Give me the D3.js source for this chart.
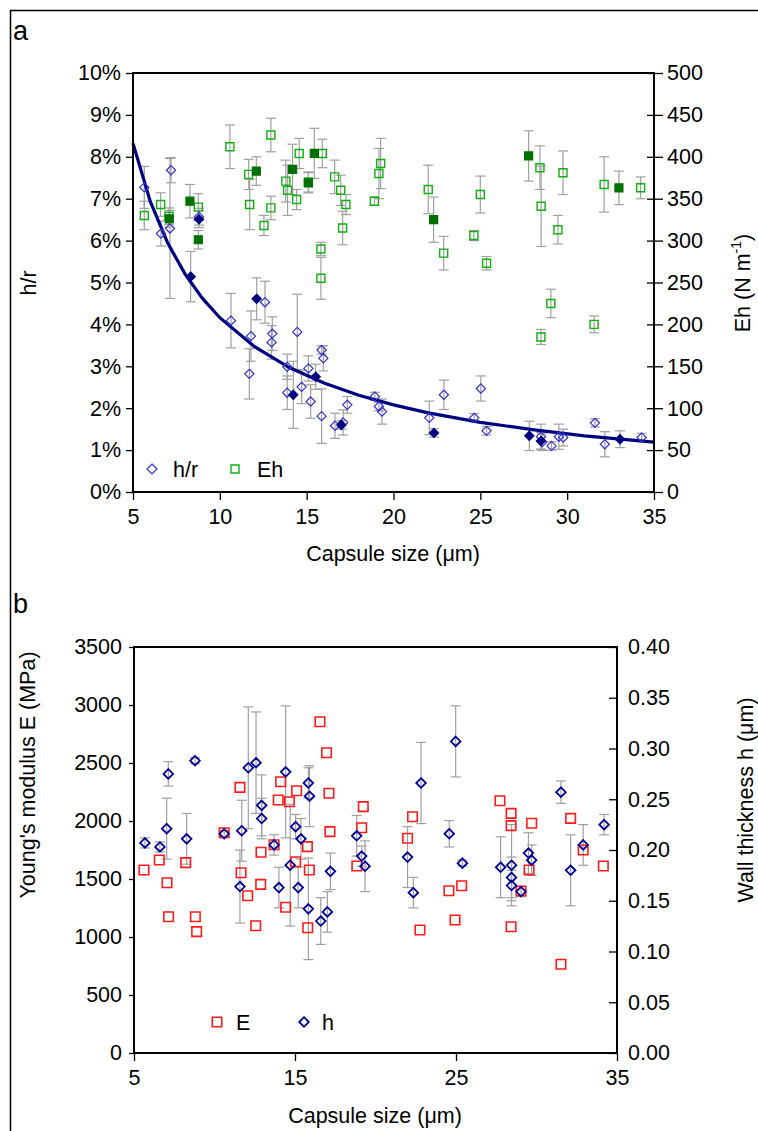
<!DOCTYPE html>
<html><head><meta charset="utf-8">
<script src="https://cdn.jsdelivr.net/npm/d3@7"></script>
<style>
body{margin:0;background:#fff;}
svg{display:block;font-family:"Liberation Sans",Arial,sans-serif;}
</style></head>
<body>
<script>
// ---------- Panel a data ----------
// Eh open squares: capsule size, Eh (N/m), error (+/-)
const ehOpenX   = [5.65,6.59,7.07,8.76,10.58,11.66,11.72,12.54,12.94,12.94,13.8,13.9,14.57,14.42,15.9,15.1,16.61,16.96,17.26,17.07,15.82,15.82,19.26,19.16,18.9,22.0,22.89,24.63,25.0,25.36,28.43,28.5,29.76,29.47,32.13,34.23,29.06,28.49,31.55];
const ehOpenY   = [330,343,329,340,412,379,343,318,426,339,371,360,404,349,404,370,376,360,343,315,290,255,392,380,347,361,285,306,355,273,387,341,381,313,367,363,225,185,200];
const ehOpenErr = [17,14,10,16,26,18,30,12,20,14,25,30,18,12,17,12,20,18,12,20,8,25,30,30,5,29,20,6,22,8,26,48,26,17,33,13,17,9,10];
// Eh filled squares
const ehFillX   = [7.09,8.28,8.76,12.1,14.19,15.44,15.1,22.31,27.78,32.98];
const ehFillY   = [326,347,301,383,385,404,369,325,401,363];
const ehFillErr = [10,20,11,17,30,30,12,27,30,20];
// h/r open diamonds (%)
const hrOpenX   = [5.65,7.19,6.61,7.13,8.8,10.64,12.6,11.79,11.7,13.02,12.98,13.88,13.88,14.46,15.1,14.71,15.23,15.86,15.96,15.86,16.63,17.1,17.34,18.93,19.16,19.34,22.06,22.9,24.65,25.03,25.36,28.49,28.56,29.1,29.52,29.77,31.6,32.17,34.29];
const hrOpenY   = [7.27,7.68,6.17,6.29,6.57,4.09,4.53,3.72,2.82,3.78,3.57,2.99,2.37,3.82,2.95,2.51,2.16,3.39,3.19,1.81,1.58,1.66,2.08,2.28,2.04,1.92,1.77,2.32,1.77,2.47,1.46,1.32,1.19,1.10,1.32,1.30,1.65,1.14,1.30];
const hrOpenErr = [0.5,0.3,0.3,1.67,0.2,0.65,0.5,0.6,0.6,0.4,0.4,0.3,0.4,0.9,0.3,0.4,0.4,0.1,0.3,0.65,0.3,0.3,0.2,0.1,0.1,0.3,0.4,0.35,0.1,0.3,0.1,0.3,0.2,0.1,0.3,0.2,0.1,0.3,0.1];
// h/r filled diamonds (%)
const hrFillX   = [8.8,8.32,12.12,14.23,15.52,17.0,22.33,27.82,28.49,33.04];
const hrFillY   = [6.51,5.14,4.61,2.32,2.75,1.6,1.41,1.34,1.22,1.26];
const hrFillErr = [0.2,0.6,0.5,0.8,0.3,0.1,0.1,0.35,0.2,0.2];
// fitted h/r curve (%)
const fitX = [5,6,7,8,9,10,12,14,16,18,20,22,25,28,31,35];
const fitY = [8.32,6.93,5.94,5.2,4.62,4.16,3.47,2.97,2.6,2.31,2.08,1.89,1.66,1.49,1.34,1.19];
const aXTicks = [5,10,15,20,25,30,35];
const aYTicks = [0,1,2,3,4,5,6,7,8,9,10];
const aY2Ticks = [0,50,100,150,200,250,300,350,400,450,500];

// ---------- Panel b data ----------
const eX = [5.62,6.57,7.05,8.21,7.15,8.81,8.89,10.6,11.58,11.65,12.06,12.87,12.56,12.89,13.7,13.96,14.11,14.42,14.65,15.04,15.1,15.77,15.89,15.79,16.55,16.96,17.11,17.17,18.84,19.14,19.24,21.99,22.3,22.76,24.56,24.94,25.35,27.73,28.42,28.42,28.42,29.04,29.54,29.7,31.52,32.12,32.9,34.15];
const eY = [1578,1664,1468,1641,1175,1175,1046,1899,2290,1554,1356,1454,1097,1730,1795,2181,2339,1256,2166,1649,2261,1779,1578,1080,2856,2589,2239,1908,1612,1942,2124,1851,2037,1060,1399,1147,1442,2175,2066,1960,1089,1397,1578,1980,765,2023,1750,1612];
const hX = [5.68,6.61,7.13,7.03,8.79,8.27,10.6,11.69,11.58,12.1,12.58,12.93,12.93,13.7,14.0,14.42,14.7,15.04,15.2,15.37,15.83,15.9,15.83,16.6,17.01,17.2,18.83,19.14,19.35,21.99,22.35,22.83,24.58,24.98,25.4,27.77,28.45,28.45,28.45,29.04,29.5,29.7,31.52,32.12,32.9,34.2];
const hY = [0.207,0.203,0.275,0.221,0.288,0.211,0.216,0.219,0.164,0.281,0.286,0.244,0.231,0.205,0.163,0.277,0.185,0.223,0.163,0.211,0.266,0.253,0.142,0.130,0.139,0.179,0.214,0.194,0.184,0.193,0.158,0.266,0.216,0.307,0.187,0.183,0.185,0.173,0.165,0.159,0.197,0.190,0.257,0.180,0.205,0.225];
const hErr = [0.005,0.005,0.012,0.03,0.003,0.025,0.003,0.03,0.036,0.06,0.05,0.03,0.02,0.01,0.02,0.065,0.06,0.012,0.02,0.02,0.015,0.03,0.05,0.023,0.02,0.018,0.02,0.01,0.025,0.03,0.015,0.04,0.013,0.035,0.003,0.03,0.04,0.02,0.015,0.005,0.02,0.015,0.011,0.035,0.02,0.01];
const bXTicks = [5,15,25,35];
const bYTicks = [0,500,1000,1500,2000,2500,3000,3500];
const bY2Ticks = [0,0.05,0.10,0.15,0.20,0.25,0.30,0.35,0.40];

// ---------- drawing ----------
const W = 758, H = 1131;
const svg = d3.select("body").append("svg").attr("width", W).attr("height", H);
svg.append("rect").attr("x",10.5).attr("y",10.5).attr("width",W).attr("height",H)
  .attr("fill","none").attr("stroke","#000").attr("stroke-width",1.5);

const FS = 21.5;
const errColor = "#a0a0a0";
const sqPath = s => `M${-s/2},${-s/2}h${s}v${s}h${-s}Z`;
const diaPath = r => `M0,${-r}L${r},0L0,${r}L${-r},0Z`;

function errBars(g, xs, ys, es, xs_, ys_) {
  xs.forEach((x, i) => {
    const cx = xs_(x), y1 = ys_(ys[i] - es[i]), y2 = ys_(ys[i] + es[i]);
    const eg = g.append("g").attr("stroke", errColor).attr("stroke-width", 1.2);
    eg.append("line").attr("x1",cx).attr("x2",cx).attr("y1",y1).attr("y2",y2);
    eg.append("line").attr("x1",cx-5).attr("x2",cx+5).attr("y1",y1).attr("y2",y1);
    eg.append("line").attr("x1",cx-5).attr("x2",cx+5).attr("y1",y2).attr("y2",y2);
  });
}
function marks(g, xs, ys, xs_, ys_, path, stroke, fill, sw) {
  xs.forEach((x, i) => {
    g.append("path").attr("d", path).attr("transform", `translate(${xs_(x)},${ys_(ys[i])})`)
      .attr("stroke", stroke).attr("fill", fill).attr("stroke-width", sw);
  });
}

// ===== Panel a =====
const xA = d3.scaleLinear().domain([5,35]).range([133,654]);
const yA = d3.scaleLinear().domain([0,10]).range([492,73]);
const yA2 = d3.scaleLinear().domain([0,500]).range([492,73]);
const ga = svg.append("g");

errBars(ga, ehOpenX, ehOpenY, ehOpenErr, xA, yA2);
errBars(ga, ehFillX, ehFillY, ehFillErr, xA, yA2);
errBars(ga, hrOpenX, hrOpenY, hrOpenErr, xA, yA);
errBars(ga, hrFillX, hrFillY, hrFillErr, xA, yA);

ga.append("path").datum(fitX.map((x,i)=>[x,fitY[i]]))
  .attr("d", d3.line().x(d=>xA(d[0])).y(d=>yA(d[1])))
  .attr("fill","none").attr("stroke","#000080").attr("stroke-width",3.2);

marks(ga, ehOpenX, ehOpenY, xA, yA2, sqPath(8), "#10b010", "none", 1.4);
marks(ga, ehFillX, ehFillY, xA, yA2, sqPath(8), "#007000", "#007000", 1.2);
marks(ga, hrOpenX, hrOpenY, xA, yA, diaPath(4.6), "#3333cc", "none", 1.2);
marks(ga, hrFillX, hrFillY, xA, yA, diaPath(4.6), "#000080", "#000080", 1.2);

// axes a
const axLa = ga.append("g").attr("transform","translate(133,0)")
  .call(d3.axisLeft(yA).tickValues(aYTicks).tickSize(7).tickPadding(5).tickFormat(d=>d+"%"));
const axRa = ga.append("g").attr("transform","translate(654,0)")
  .call(d3.axisRight(yA2).tickValues(aY2Ticks).tickSize(9).tickPadding(4));
axRa.selectAll(".tick").append("line").attr("x1",0).attr("x2",-7).attr("stroke","#000");
const axBa = ga.append("g").attr("transform","translate(0,492)")
  .call(d3.axisBottom(xA).tickValues(aXTicks).tickSize(8).tickPadding(9));
[axLa, axRa, axBa].forEach(a => {
  a.select(".domain").remove();
  a.selectAll("text").attr("font-size", FS).attr("fill","#000").attr("font-family","Liberation Sans, Arial");
  a.selectAll("line").attr("stroke","#000").attr("stroke-width",1.3);
});
ga.append("rect").attr("x",133).attr("y",73).attr("width",521).attr("height",419)
  .attr("fill","none").attr("stroke","#000").attr("stroke-width",2);

// titles a
svg.append("text").attr("x",13).attr("y",40).attr("font-size",27).text("a");
svg.append("text").attr("transform","translate(36,283) rotate(-90)").attr("text-anchor","middle")
  .attr("font-size",FS).text("h/r");
const ehT = svg.append("text").attr("transform","translate(750,283) rotate(-90)").attr("text-anchor","middle")
  .attr("font-size",FS);
ehT.append("tspan").text("Eh (N m");
ehT.append("tspan").attr("dy",-9).attr("font-size",14).text("-1");
ehT.append("tspan").attr("dy",9).text(")");
svg.append("text").attr("x",393).attr("y",561).attr("text-anchor","middle").attr("font-size",FS)
  .text("Capsule size (\u03bcm)");

// legend a
svg.append("path").attr("d",diaPath(5)).attr("transform","translate(152,469)").attr("stroke","#3333cc").attr("fill","none").attr("stroke-width",1.2);
svg.append("text").attr("x",173).attr("y",477).attr("font-size",FS).text("h/r");
svg.append("path").attr("d",sqPath(8)).attr("transform","translate(235,469)").attr("stroke","#10b010").attr("fill","none").attr("stroke-width",1.4);
svg.append("text").attr("x",257).attr("y",477).attr("font-size",FS).text("Eh");

// ===== Panel b =====
const xB = d3.scaleLinear().domain([5,35]).range([134,617]);
const yB = d3.scaleLinear().domain([0,3500]).range([1053,647]);
const yB2 = d3.scaleLinear().domain([0,0.4]).range([1053,647]);
const gb = svg.append("g");

errBars(gb, hX, hY, hErr, xB, yB2);
marks(gb, eX, eY, xB, yB, sqPath(9.5), "#ff1a1a", "none", 1.6);
marks(gb, hX, hY, xB, yB2, diaPath(4.8), "#000099", "none", 1.8);

const axLb = gb.append("g").attr("transform","translate(134,0)")
  .call(d3.axisLeft(yB).tickValues(bYTicks).tickSize(5).tickPadding(7).tickFormat(d3.format("d")));
const axRb = gb.append("g").attr("transform","translate(617,0)")
  .call(d3.axisRight(yB2).tickValues(bY2Ticks).tickSize(0).tickPadding(11).tickFormat(d3.format(".2f")));
axRb.selectAll(".tick").append("line").attr("x1",0).attr("x2",-8).attr("stroke","#000");
const axBb = gb.append("g").attr("transform","translate(0,1053)")
  .call(d3.axisBottom(xB).tickValues(bXTicks).tickSize(8).tickPadding(9));
[axLb, axRb, axBb].forEach(a => {
  a.select(".domain").remove();
  a.selectAll("text").attr("font-size", FS).attr("fill","#000").attr("font-family","Liberation Sans, Arial");
  a.selectAll("line").attr("stroke","#000").attr("stroke-width",1.3);
});
gb.append("rect").attr("x",134).attr("y",647).attr("width",483).attr("height",406)
  .attr("fill","none").attr("stroke","#000").attr("stroke-width",2);

svg.append("text").attr("x",13).attr("y",613).attr("font-size",27).text("b");
svg.append("text").attr("transform","translate(35,775) rotate(-90)").attr("text-anchor","middle")
  .attr("font-size",FS).text("Young's modulus E (MPa)");
svg.append("text").attr("transform","translate(753,800) rotate(-90)").attr("text-anchor","middle")
  .attr("font-size",FS).text("Wall thickness h (\u03bcm)");
svg.append("text").attr("x",375).attr("y",1123).attr("text-anchor","middle").attr("font-size",FS)
  .text("Capsule size (\u03bcm)");

// legend b
svg.append("path").attr("d",sqPath(9.5)).attr("transform","translate(217,1022)").attr("stroke","#ff1a1a").attr("fill","none").attr("stroke-width",1.6);
svg.append("text").attr("x",236).attr("y",1030).attr("font-size",FS).text("E");
svg.append("path").attr("d",diaPath(4.8)).attr("transform","translate(304,1022)").attr("stroke","#000099").attr("fill","none").attr("stroke-width",1.8);
svg.append("text").attr("x",322).attr("y",1030).attr("font-size",FS).text("h");
</script>
</body></html>
